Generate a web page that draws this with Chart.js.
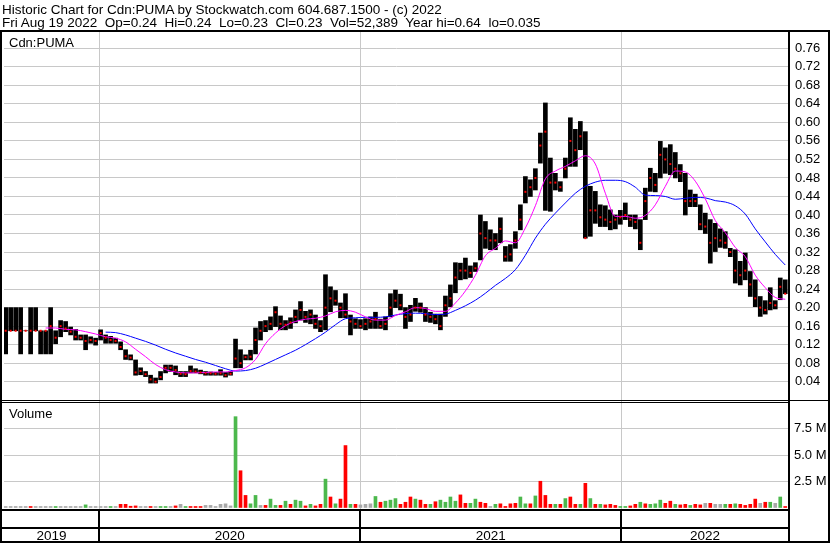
<!DOCTYPE html>
<html><head><meta charset="utf-8">
<script src="https://cdn.jsdelivr.net/npm/chart.js@4.4.1/dist/chart.umd.min.js"></script>
<style>
html,body{margin:0;padding:0;background:#fff;}
#wrap{position:relative;width:830px;height:543px;overflow:hidden;background:#fff;}
#c{position:absolute;left:0;top:0;}
.hdr{position:absolute;left:2px;font:13.5px "Liberation Sans",Arial,sans-serif;color:#000;white-space:pre;line-height:13px;}
</style></head><body>
<div id="wrap">
<canvas id="c" width="830" height="543"></canvas>
<div class="hdr" style="top:3px">Historic Chart for Cdn:PUMA by Stockwatch.com 604.687.1500 - (c) 2022</div>
<div class="hdr" style="top:16px">Fri Aug 19 2022  Op=0.24  Hi=0.24  Lo=0.23  Cl=0.23  Vol=52,389  Year hi=0.64  lo=0.035</div>
</div>
<script>
// ---- data (weekly, week ending Fridays from 2019-08-23 to 2022-08-19) ----
const firstWeek = '2019-08-23';
const hi = [0.20,0.20,0.20,0.20,0.15,0.20,0.20,0.15,0.15,0.20,
0.150,0.172,0.170,0.158,0.153,0.141,0.141,0.137,0.134,0.152,
0.141,0.138,0.134,0.126,0.109,0.098,0.087,0.070,0.062,0.054,
0.048,0.062,0.076,0.076,0.074,0.062,0.062,0.074,0.068,0.065,
0.062,0.061,0.060,0.066,0.060,0.062,0.132,0.109,0.098,0.108,
0.156,0.170,0.172,0.180,0.202,0.182,0.172,0.178,0.195,0.213,
0.192,0.195,0.184,0.172,0.271,0.245,0.237,0.210,0.230,0.184,
0.176,0.174,0.176,0.180,0.190,0.175,0.180,0.230,0.238,0.229,
0.200,0.205,0.220,0.210,0.200,0.190,0.186,0.186,0.225,0.249,
0.297,0.296,0.307,0.290,0.297,0.400,0.386,0.368,0.360,0.394,
0.332,0.336,0.364,0.422,0.483,0.476,0.500,0.577,0.642,0.523,
0.490,0.472,0.523,0.610,0.585,0.602,0.580,0.462,0.451,0.422,
0.420,0.411,0.400,0.410,0.426,0.400,0.400,0.390,0.458,0.501,
0.490,0.559,0.545,0.552,0.535,0.509,0.490,0.454,0.445,0.422,
0.404,0.390,0.382,0.370,0.364,0.328,0.325,0.300,0.318,0.278,
0.260,0.224,0.215,0.243,0.215,0.264,0.260];
const lo = [0.10,0.15,0.15,0.10,0.15,0.10,0.15,0.10,0.10,0.10,
0.122,0.137,0.148,0.141,0.130,0.130,0.109,0.123,0.119,0.130,
0.123,0.123,0.123,0.109,0.088,0.087,0.054,0.055,0.051,0.037,
0.037,0.044,0.059,0.062,0.055,0.051,0.051,0.059,0.059,0.057,
0.054,0.054,0.054,0.054,0.050,0.054,0.070,0.070,0.087,0.087,
0.100,0.130,0.148,0.152,0.159,0.152,0.152,0.155,0.167,0.173,
0.168,0.165,0.155,0.148,0.152,0.191,0.205,0.178,0.178,0.141,
0.155,0.155,0.152,0.155,0.155,0.155,0.152,0.180,0.200,0.195,
0.155,0.170,0.192,0.190,0.170,0.168,0.165,0.152,0.181,0.202,
0.232,0.260,0.262,0.265,0.278,0.303,0.328,0.325,0.325,0.340,
0.300,0.300,0.328,0.368,0.426,0.440,0.454,0.512,0.410,0.408,
0.454,0.451,0.480,0.505,0.505,0.541,0.350,0.354,0.382,0.375,
0.375,0.368,0.370,0.380,0.390,0.375,0.370,0.325,0.390,0.451,
0.450,0.480,0.490,0.487,0.480,0.472,0.400,0.418,0.418,0.368,
0.360,0.296,0.321,0.330,0.328,0.310,0.253,0.249,0.260,0.224,
0.202,0.181,0.186,0.195,0.197,0.217,0.230];
const cl = [0.15,0.15,0.15,0.15,0.15,0.15,0.15,0.15,0.15,0.16,
0.135,0.160,0.155,0.148,0.137,0.135,0.128,0.130,0.128,0.145,
0.135,0.130,0.128,0.115,0.095,0.092,0.060,0.063,0.056,0.045,
0.040,0.050,0.070,0.070,0.065,0.057,0.056,0.063,0.062,0.060,
0.058,0.058,0.057,0.058,0.054,0.057,0.090,0.080,0.093,0.094,
0.130,0.150,0.160,0.165,0.190,0.165,0.163,0.168,0.180,0.195,
0.180,0.185,0.165,0.160,0.200,0.220,0.215,0.200,0.185,0.170,
0.165,0.160,0.165,0.170,0.175,0.160,0.165,0.200,0.215,0.205,
0.180,0.185,0.200,0.200,0.185,0.180,0.175,0.160,0.205,0.220,
0.265,0.280,0.280,0.275,0.285,0.360,0.350,0.345,0.345,0.370,
0.310,0.315,0.345,0.390,0.450,0.460,0.480,0.550,0.580,0.470,
0.470,0.460,0.500,0.560,0.540,0.570,0.350,0.410,0.410,0.395,
0.390,0.385,0.390,0.395,0.400,0.390,0.385,0.340,0.430,0.480,
0.465,0.530,0.520,0.510,0.500,0.490,0.430,0.430,0.430,0.380,
0.375,0.340,0.350,0.345,0.340,0.320,0.280,0.270,0.280,0.250,
0.220,0.200,0.195,0.210,0.205,0.245,0.230];
// volume in millions (largest session of the week)
const vol = [0.03,0.03,0.02,0.02,0.02,0.05,0.02,0.02,0.04,0.04,
0.05,0.04,0.04,0.02,0.02,0.02,0.25,0.02,0.02,0.02,
0.02,0.05,0.02,0.30,0.30,0.12,0.15,0.02,0.02,0.06,
0.02,0.05,0.05,0.02,0.15,0.30,0.08,0.06,0.06,0.05,
0.20,0.20,0.03,0.30,0.35,0.15,8.65,3.50,1.15,0.35,
1.15,0.20,0.20,0.80,0.20,0.20,0.60,0.30,0.70,0.60,
0.15,0.30,0.15,0.30,2.70,1.00,0.35,0.80,5.90,0.30,
0.30,0.25,0.30,0.35,1.05,0.50,0.60,0.70,0.85,0.30,
0.50,1.00,0.80,0.70,0.30,0.30,0.55,0.70,0.50,1.00,
0.60,1.20,0.40,0.40,0.80,0.50,0.40,0.10,0.30,0.35,
0.10,0.35,0.40,1.00,0.35,0.35,1.10,2.50,1.15,0.30,
0.30,0.30,0.85,1.00,0.30,0.30,2.30,0.85,0.30,0.30,
0.25,0.30,0.20,0.10,0.10,0.15,0.30,0.50,0.35,0.30,
0.35,0.70,0.40,0.60,0.30,0.25,0.30,0.20,0.30,0.25,
0.40,0.40,0.30,0.30,0.30,0.30,0.35,0.30,0.20,0.30,
0.80,0.40,0.50,0.50,0.40,1.00,0.05];
// session direction of that volume: u = up, d = down, n = unchanged
const volDir = ('nnnnndnnnn'+'unnnnnunnn'+'nunddddnnd'+'nuundnuddd'+'nnnnnnuddu'+
'unduududuu'+'duddududdu'+'dnnnuduuud'+'ddudduduuu'+'udduuddnud'+
'ddduududdd'+'ududdududu'+'ddduuddudu'+'uudduddudd'+'ndnnududdd'+'dndunud').split('');
// moving averages read every 2 weeks
const maFast = [null,null,null,null,0.156,0.156,0.153,0.152,0.148,0.143,
0.137,0.134,0.126,0.110,0.094,0.077,0.066,0.061,0.059,0.059,
0.060,0.061,0.061,0.064,0.070,0.088,0.122,0.145,0.161,0.170,
0.175,0.177,0.182,0.191,0.194,0.190,0.180,0.173,0.173,0.183,
0.191,0.200,0.198,0.192,0.192,0.210,0.236,0.270,0.312,0.328,
0.344,0.340,0.372,0.420,0.478,0.495,0.505,0.517,0.528,0.510,
0.447,0.397,0.397,0.393,0.399,0.422,0.462,0.495,0.493,0.473,
0.435,0.388,0.362,0.330,0.310,0.270,0.243,0.222,0.218];
const maSlow = [null,null,null,null,null,null,null,null,null,null,
0.147,0.146,0.141,0.134,0.127,0.119,0.110,0.102,0.095,0.088,
0.082,0.075,0.068,0.063,0.064,0.069,0.078,0.088,0.098,0.108,
0.120,0.133,0.147,0.163,0.176,0.178,0.179,0.179,0.180,0.184,
0.187,0.188,0.187,0.185,0.186,0.194,0.204,0.216,0.231,0.248,
0.263,0.282,0.313,0.350,0.380,0.404,0.426,0.447,0.462,0.471,
0.475,0.475,0.472,0.460,0.443,0.442,0.440,0.434,0.436,0.438,
0.437,0.431,0.428,0.420,0.402,0.370,0.342,0.315,0.292];
const priceTicks = [0.04,0.08,0.12,0.16,0.20,0.24,0.28,0.32,0.36,0.40,0.44,0.48,0.52,0.56,0.60,0.64,0.68,0.72,0.76];
const volTicks = [2.5,5.0,7.5];
const years = ['2019','2020','2021','2022'];
const panelTitle = 'Cdn:PUMA';
const volTitle = 'Volume';

// ---- helpers ----
const DAY = 864e5;
const t0 = Date.parse(firstWeek + 'T00:00:00Z');
const weekOf = iso => (Date.parse(iso + 'T00:00:00Z') - t0) / (7 * DAY);
const yearBounds = years.slice(1).map(y => weekOf(y + '-01-01'));
const FONT = '"Liberation Sans", Arial, sans-serif';
const dirColor = d => d === 'u' ? '#4cb84c' : (d === 'd' ? '#ff0000' : '#a8a8a8');

const framePlugin = {
  id: 'frame',
  afterDraw(chart) {
    const c = chart.ctx, a = chart.chartArea, xs = chart.scales.x;
    const W = chart.width, H = chart.height;
    c.save();
    c.fillStyle = '#000';
    c.fillRect(0, 30, W, 2);
    c.fillRect(0, 30, 2, H - 30);
    c.fillRect(a.right - 1, 30, 2, H - 30);
    c.fillRect(W - 2, 30, 2, H - 30);
    c.fillRect(0, H - 2, W, 2);
    const sep = chart.scales.yP.bottom;
    c.fillRect(0, sep - 1, W, 1);
    c.fillRect(0, sep + 1, a.right, 1);
    c.fillRect(0, a.bottom, a.right, 2);
    c.fillRect(0, a.bottom + 18, a.right, 2);
    const bx = yearBounds.map(v => xs.getPixelForValue(v));
    bx.forEach(px => c.fillRect(Math.round(px) - 1, a.bottom, 2, H - a.bottom - 2));
    c.font = '13px ' + FONT;
    c.textBaseline = 'alphabetic';
    c.textAlign = 'left';
    c.fillText(panelTitle, 9, a.top + 14.5);
    c.fillText(volTitle, 9, sep + 17);
    c.textAlign = 'center';
    c.font = '13.5px ' + FONT;
    const edges = [a.left, ...bx, a.right];
    years.forEach((t, i) => c.fillText(t, (edges[i] + edges[i + 1]) / 2, H - 3.5));
    c.restore();
  }
};

new Chart(document.getElementById('c'), {
  type: 'bar',
  data: {
    datasets: [
      { type: 'line', label: 'Close', data: cl.map((v, i) => ({x: i, y: v})),
        showLine: false, pointStyle: 'rect', pointRadius: 1.4, pointBackgroundColor: '#ff0000',
        pointBorderWidth: 0, yAxisID: 'yP', order: 1 },
      { type: 'line', label: 'MA fast', data: maFast.map((v, j) => ({x: 2 * j, y: v})).filter(p => p.y !== null),
        borderColor: '#ff00ff', borderWidth: 1, pointRadius: 0, cubicInterpolationMode: 'monotone', yAxisID: 'yP', order: 2 },
      { type: 'line', label: 'MA slow', data: maSlow.map((v, j) => ({x: 2 * j, y: v})).filter(p => p.y !== null),
        borderColor: '#0000ff', borderWidth: 1, pointRadius: 0, cubicInterpolationMode: 'monotone', yAxisID: 'yP', order: 3 },
      { type: 'bar', label: 'Range', data: hi.map((h, i) => ({x: i, y: [lo[i], h]})),
        backgroundColor: '#000', borderWidth: 0, barThickness: 4, grouped: false, yAxisID: 'yP', order: 4 },
      { type: 'bar', label: 'Volume', data: vol.map((v, i) => ({x: i, y: v})),
        backgroundColor: volDir.map(dirColor), borderWidth: 0, barThickness: 3, minBarLength: 1,
        grouped: false, yAxisID: 'yV', order: 5 }
    ]
  },
  options: {
    responsive: false, animation: false, devicePixelRatio: 1,
    layout: { padding: { top: 32, left: 2, right: 0, bottom: 0 } },
    plugins: { legend: { display: false }, tooltip: { enabled: false } },
    scales: {
      x: { type: 'linear', min: -0.33, max: 156.75, offset: false,
        grid: { offset: false, color: '#c8c8c8', drawTicks: false },
        border: { display: false }, ticks: { display: false, autoSkip: false },
        afterBuildTicks: s => { s.ticks = yearBounds.map(v => ({value: v})); },
        afterFit: s => { s.height = 34; } },
      yP: { type: 'linear', position: 'right', stack: 'panes', stackWeight: 369,
        min: -0.0017, max: 0.7952,
        grid: { color: '#c8c8c8', drawTicks: false }, border: { display: false },
        ticks: { padding: 6, color: '#000', font: { family: FONT, size: 13 }, autoSkip: false,
          callback: v => v.toFixed(2) },
        afterBuildTicks: s => { s.ticks = priceTicks.map(v => ({value: v})); },
        afterFit: s => { s.width = 41; } },
      yV: { type: 'linear', position: 'right', stack: 'panes', stackWeight: 108,
        min: -0.143, max: 10.143,
        grid: { color: '#c8c8c8', drawTicks: false }, border: { display: false },
        ticks: { padding: 5, color: '#000', font: { family: FONT, size: 13 }, autoSkip: false,
          callback: v => v.toFixed(1) + ' M' },
        afterBuildTicks: s => { s.ticks = volTicks.map(v => ({value: v})); },
        afterFit: s => { s.width = 41; } }
    }
  },
  plugins: [framePlugin]
});
</script>
</body></html>
